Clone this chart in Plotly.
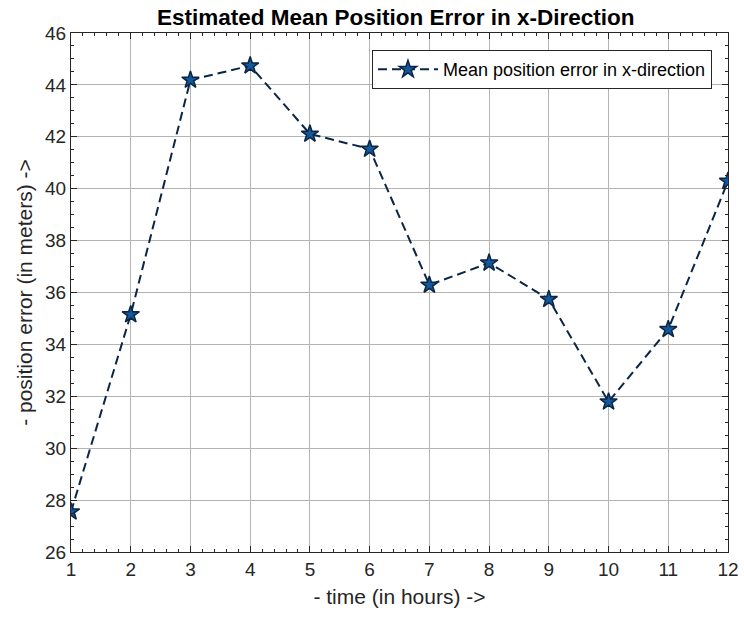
import plotly.graph_objects as go

# Mean position error in x-direction for each hour
hours = [1, 2, 3, 4, 5, 6, 7, 8, 9, 10, 11, 12]
mean_error_x = [27.55, 35.15, 44.19, 44.74, 42.11, 41.53, 36.29, 37.14, 35.74, 31.79, 34.58, 40.29]

x_ticks = list(range(1, 13))
y_ticks = list(range(26, 47, 2))

FONT = "Liberation Sans, Arial, sans-serif"

fig = go.Figure()
fig.add_trace(go.Scatter(
    x=hours,
    y=mean_error_x,
    mode="lines+markers",
    name="Mean position error in x-direction",
    line=dict(color="#0b2545", width=2, dash="9px,5px"),
    marker=dict(symbol="star", size=13, color="#12589a",
                line=dict(color="#0b2545", width=1.5)),
))

axis_common = dict(
    showline=True, linecolor="#262626", linewidth=1, mirror="allticks",
    ticks="inside", ticklen=6, tickcolor="#262626",
    showgrid=True, gridcolor="#b4b4b4", gridwidth=1,
    zeroline=False,
    tickfont=dict(family=FONT, size=19, color="#262626"),
    title_font=dict(family=FONT, size=21, color="#262626"),
)

fig.update_xaxes(
    range=[1, 12], tickvals=x_ticks,
    minor=dict(dtick=0.2, tick0=1, ticks="inside", ticklen=3, tickcolor="#262626", showgrid=False),
    title_text="- time (in hours) ->", title_standoff=10,
    **axis_common,
)
fig.update_yaxes(
    range=[26, 46], tickvals=y_ticks,
    minor=dict(dtick=0.5, tick0=26, ticks="inside", ticklen=3, tickcolor="#262626", showgrid=False),
    title_text="- position error (in meters) ->", title_standoff=6,
    **axis_common,
)

fig.update_layout(
    width=744, height=621,
    margin=dict(l=71, r=16, t=33, b=69, autoexpand=False),
    paper_bgcolor="white", plot_bgcolor="white",
    title=dict(text="<b>Estimated Mean Position Error in x-Direction</b>",
               x=0.532, xanchor="center", y=0.972, yanchor="middle",
               font=dict(family=FONT, size=22.5, color="#000000")),
    showlegend=True,
    legend=dict(x=0.9756, y=0.967, xanchor="right", yanchor="top",
                bgcolor="white", bordercolor="#262626", borderwidth=1,
                font=dict(family=FONT, size=18, color="#000000"),
                itemwidth=60),
)

fig.write_html("out.html")
